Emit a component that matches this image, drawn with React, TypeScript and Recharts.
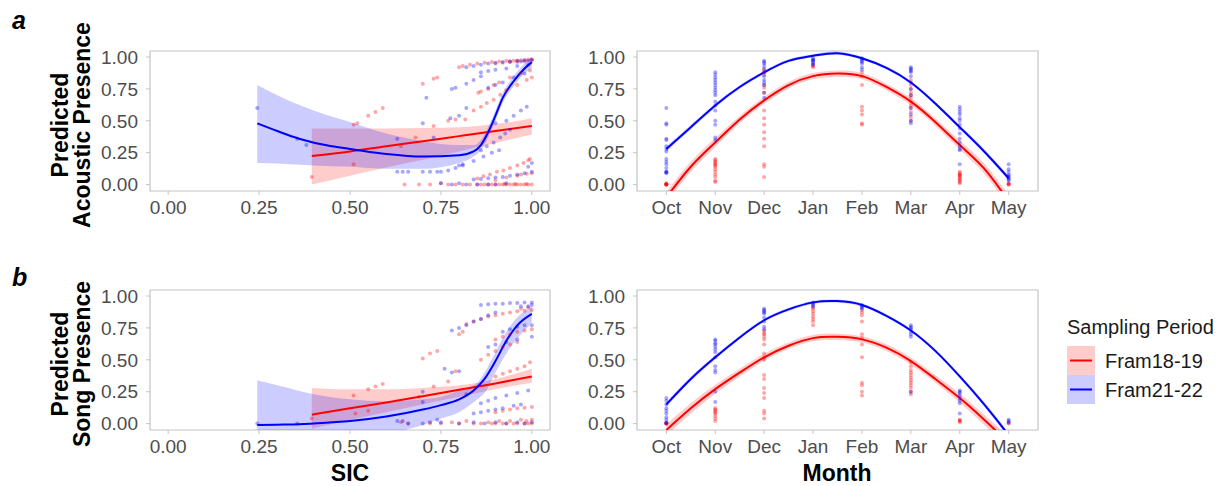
import React from "react";
import {
  ComposedChart,
  XAxis,
  YAxis,
  Scatter,
  Line,
  Area,
  ReferenceArea,
} from "recharts";

const FONT = "'Liberation Sans', Arial, Helvetica, sans-serif";
const RED = "#ff0000";
const BLUE = "#0000ff";
const BORDER = "#c4c4c4";
const TICK_TEXT = "#4d4d4d";

// axes
const yTicks = [0, 0.25, 0.5, 0.75, 1];
const sicTicks = [0, 0.25, 0.5, 0.75, 1];
const months = ["Oct", "Nov", "Dec", "Jan", "Feb", "Mar", "Apr", "May"];
const monthTicks = [0, 1, 2, 3, 4, 5, 6, 7];

// ---------- panel a, SIC ----------
const acSicLineX18 = [0.395, 0.5, 0.6, 0.7, 0.8, 0.9, 1.0];
const acSicLineY18 = [0.225, 0.26, 0.3, 0.34, 0.38, 0.42, 0.46];
const acSicBandX18 = [0.395, 0.5, 0.6, 0.7, 0.8, 0.85, 0.9, 0.95, 1.0];
const acSicBandLo18 = [0.0, 0.07, 0.135, 0.195, 0.26, 0.295, 0.325, 0.36, 0.39];
const acSicBandHi18 = [0.44, 0.44, 0.44, 0.443, 0.45, 0.46, 0.475, 0.495, 0.52];

const acSicLineX21 = [0.245, 0.3, 0.36, 0.45, 0.5, 0.6, 0.7, 0.8, 0.84, 0.86, 0.88, 0.9, 0.92, 0.95, 0.98, 1.0];
const acSicLineY21 = [0.48, 0.42, 0.36, 0.3, 0.28, 0.24, 0.22, 0.23, 0.26, 0.31, 0.41, 0.54, 0.68, 0.81, 0.91, 0.96];
const acSicBandX21 = [0.245, 0.3, 0.4, 0.5, 0.6, 0.7, 0.8, 0.84, 0.86, 0.88, 0.9, 0.92, 0.95, 0.98, 1.0];
const acSicBandLo21 = [0.17, 0.165, 0.15, 0.14, 0.125, 0.125, 0.17, 0.22, 0.27, 0.37, 0.5, 0.64, 0.77, 0.87, 0.91];
const acSicBandHi21 = [0.78, 0.7, 0.58, 0.49, 0.4, 0.34, 0.31, 0.31, 0.35, 0.45, 0.58, 0.72, 0.85, 0.95, 1.0];

const acSicPts18: [number, number][] = [
  [0.395, 0.06], [0.51, 0.16], [0.51, 0.47], [0.52, 0.48], [0.55, 0.54], [0.57, 0.57], [0.59, 0.6],
  [0.64, 0.3], [0.65, 0.0], [0.68, 0.37], [0.7, 0.79], [0.73, 0.83], [0.74, 0.84], [0.73, 0.46],
  [0.77, 0.5], [0.79, 0.51], [0.69, 0.0], [0.72, 0.0], [0.75, 0.01],
  [0.8, 0.92], [0.81, 0.93], [0.83, 0.94], [0.85, 0.95], [0.87, 0.955], [0.89, 0.96], [0.91, 0.965],
  [0.93, 0.97], [0.95, 0.97], [0.97, 0.975], [0.99, 0.98], [1.0, 0.98], [0.98, 0.975], [0.96, 0.97],
  [0.94, 0.965], [0.9, 0.95], [0.92, 0.955], [0.94, 0.96], [0.96, 0.96], [0.98, 0.965], [1.0, 0.97],
  [0.853, 0.72], [0.86, 0.73], [0.88, 0.75], [0.895, 0.78], [0.91, 0.8], [0.94, 0.84], [0.97, 0.87], [0.995, 0.895],
  [0.817, 0.51], [0.84, 0.58], [0.86, 0.61], [0.876, 0.64], [0.895, 0.665], [0.913, 0.705], [0.93, 0.74],
  [0.96, 0.78], [0.986, 0.82], [1.0, 0.84],
  [0.85, 0.047], [0.867, 0.065], [0.885, 0.08], [0.904, 0.1], [0.922, 0.11], [0.94, 0.13], [0.96, 0.15],
  [0.977, 0.17], [0.995, 0.2], [0.99, 0.19],
  [0.9, 0.035], [0.93, 0.055], [0.96, 0.07], [0.986, 0.086], [1.0, 0.09], [0.97, 0.08],
  [0.77, 0.0], [0.79, 0.0], [0.81, 0.0], [0.83, 0.0], [0.85, 0.0], [0.86, 0.0], [0.87, 0.0], [0.88, 0.0],
  [0.89, 0.0], [0.9, 0.0], [0.91, 0.0], [0.92, 0.0], [0.93, 0.0], [0.94, 0.0], [0.95, 0.0], [0.96, 0.0],
  [0.97, 0.0], [0.98, 0.0], [0.99, 0.0], [1.0, 0.0], [0.955, 0.005], [0.985, 0.005], [0.925, 0.005],
];

const acSicPts21: [number, number][] = [
  [0.245, 0.6], [0.355, 0.36], [0.38, 0.31], [0.63, 0.36], [0.63, 0.1], [0.645, 0.1], [0.66, 0.1],
  [0.7, 0.1], [0.7, 0.48], [0.71, 0.68], [0.73, 0.37], [0.72, 0.1], [0.74, 0.1], [0.75, 0.1],
  [0.77, 0.11], [0.79, 0.13], [0.8, 0.15], [0.81, 0.16], [0.78, 0.75], [0.79, 0.76], [0.82, 0.79],
  [0.84, 0.82], [0.86, 0.85],
  [0.82, 0.92], [0.84, 0.93], [0.86, 0.94], [0.88, 0.95], [0.9, 0.955], [0.92, 0.96], [0.94, 0.965],
  [0.96, 0.97], [0.98, 0.975], [1.0, 0.98], [0.99, 0.97], [0.97, 0.965],
  [0.86, 0.88], [0.88, 0.89], [0.9, 0.9], [0.93, 0.91], [0.96, 0.93], [0.99, 0.94],
  [0.88, 0.76], [0.9, 0.78], [0.92, 0.8], [0.95, 0.84], [0.98, 0.87],
  [0.776, 0.52], [0.8, 0.54], [0.82, 0.6], [0.9, 0.48], [0.93, 0.5], [0.95, 0.54], [0.97, 0.58], [0.986, 0.61],
  [0.86, 0.27], [0.876, 0.3], [0.895, 0.33], [0.913, 0.37], [0.927, 0.4], [0.94, 0.43],
  [0.81, 0.15], [0.84, 0.185], [0.867, 0.22], [0.89, 0.25], [0.91, 0.27],
  [0.84, 0.04], [0.86, 0.045], [0.88, 0.05], [0.9, 0.055], [0.92, 0.06], [0.94, 0.07], [0.96, 0.08],
  [0.98, 0.09], [1.0, 0.1], [1.0, 0.17], [0.99, 0.14],
  [0.75, 0.01], [0.78, 0.0], [0.8, 0.01], [0.82, 0.0], [0.85, 0.0], [0.88, 0.0], [0.9, 0.0], [0.93, 0.01],
];

// ---------- panel a, month ----------
const monthFitX = [0, 0.5, 1, 1.5, 2, 2.5, 3, 3.5, 4, 4.5, 5, 5.5, 6, 6.5, 7];
const acMonthFit18 = [-0.1, 0.14, 0.33, 0.51, 0.66, 0.78, 0.85, 0.87, 0.85, 0.765, 0.65, 0.49, 0.31, 0.125, -0.13];
const acMonthCi18 = [0.045, 0.04, 0.035, 0.03, 0.028, 0.026, 0.025, 0.025, 0.025, 0.026, 0.028, 0.03, 0.035, 0.04, 0.045];
const acMonthFit21 = [0.28, 0.45, 0.62, 0.765, 0.88, 0.97, 1.01, 1.03, 0.99, 0.915, 0.8, 0.635, 0.45, 0.26, 0.05];
const acMonthCi21 = [0.02, 0.017, 0.015, 0.013, 0.012, 0.012, 0.012, 0.012, 0.012, 0.012, 0.012, 0.013, 0.015, 0.017, 0.02];

const acMonthPts18 = [
  [0, 0, 0, 0, 0, 0.005, 0.01],
  [0.2, 0.19, 0.18, 0.17, 0.16, 0.15, 0.14, 0.12, 0.1, 0.08, 0.06, 0.03, 0.02],
  [0.91, 0.88, 0.86, 0.78, 0.76, 0.72, 0.58, 0.52, 0.47, 0.41, 0.36, 0.3, 0.16, 0.14, 0.06],
  [0.94, 0.93, 0.92],
  [0.88, 0.85, 0.78, 0.61, 0.58, 0.55, 0.48, 0.47],
  [0.82, 0.78, 0.75, 0.72, 0.7, 0.68, 0.65, 0.62, 0.6, 0.57, 0.53, 0.5],
  [0.1, 0.09, 0.08, 0.075, 0.07, 0.06, 0.05, 0.04, 0.03, 0.02, 0.01],
  [0.0, 0.0, 0.005, 0.01],
];
const acMonthPts21 = [
  [0.6, 0.48, 0.47, 0.36, 0.35, 0.3, 0.28, 0.26, 0.2, 0.18, 0.16, 0.13, 0.1, 0.1, 0.095, 0.09],
  [0.88, 0.86, 0.84, 0.82, 0.8, 0.78, 0.76, 0.74, 0.72, 0.7, 0.65, 0.62, 0.58, 0.5, 0.47, 0.37, 0.35],
  [0.97, 0.96, 0.95, 0.93, 0.9, 0.88, 0.85, 0.82, 0.8, 0.78, 0.72, 0.68],
  [0.99, 0.98, 0.975, 0.97, 0.96, 0.95, 0.94],
  [0.99, 0.98, 0.97, 0.96, 0.95, 0.92, 0.9],
  [0.92, 0.91, 0.9, 0.89, 0.88, 0.85, 0.8, 0.75, 0.7, 0.6, 0.55, 0.5, 0.48],
  [0.61, 0.59, 0.57, 0.55, 0.52, 0.5, 0.47, 0.44, 0.4, 0.36, 0.33, 0.3, 0.28, 0.27, 0.16],
  [0.16, 0.12, 0.1, 0.08, 0.07, 0.06, 0.05, 0.04, 0.03],
];

// ---------- panel b, SIC ----------
const soSicLineX18 = [0.395, 0.5, 0.6, 0.7, 0.8, 0.9, 1.0];
const soSicLineY18 = [0.07, 0.12, 0.165, 0.215, 0.265, 0.315, 0.37];
const soSicBandX18 = [0.395, 0.5, 0.6, 0.7, 0.8, 0.9, 1.0];
const soSicBandLo18 = [-0.04, 0.03, 0.09, 0.15, 0.21, 0.27, 0.32];
const soSicBandHi18 = [0.28, 0.27, 0.27, 0.28, 0.3, 0.35, 0.43];

const soSicLineX21 = [0.245, 0.3, 0.36, 0.45, 0.5, 0.6, 0.7, 0.75, 0.8, 0.84, 0.87, 0.9, 0.93, 0.96, 1.0];
const soSicLineY21 = [-0.01, -0.008, -0.005, 0.01, 0.02, 0.055, 0.11, 0.145, 0.19, 0.26, 0.35, 0.49, 0.65, 0.77, 0.86];
const soSicBandX21 = [0.245, 0.3, 0.4, 0.5, 0.6, 0.65, 0.7, 0.75, 0.8, 0.85, 0.87, 0.9, 0.93, 0.95, 1.0];
const soSicBandLo21 = [-0.4, -0.3, -0.2, -0.15, -0.09, -0.05, -0.01, 0.04, 0.09, 0.19, 0.24, 0.4, 0.55, 0.63, 0.79];
const soSicBandHi21 = [0.34, 0.3, 0.23, 0.19, 0.175, 0.18, 0.19, 0.21, 0.26, 0.32, 0.4, 0.56, 0.72, 0.8, 0.92];

const soSicPts18: [number, number][] = [
  [0.395, 0.04], [0.51, 0.22], [0.515, 0.08], [0.55, 0.1], [0.55, 0.27], [0.57, 0.29], [0.59, 0.31],
  [0.69, 0.21], [0.7, 0.51], [0.72, 0.55], [0.74, 0.57], [0.73, 0.29], [0.77, 0.33], [0.79, 0.41],
  [0.8, 0.7], [0.81, 0.72], [0.64, 0.01], [0.66, 0.0],
  [0.82, 0.78], [0.84, 0.8], [0.86, 0.82], [0.88, 0.84], [0.9, 0.85], [0.92, 0.86], [0.94, 0.87],
  [0.96, 0.88], [0.98, 0.885], [1.0, 0.89], [0.97, 0.9], [0.99, 0.91],
  [0.9, 0.66], [0.92, 0.68], [0.94, 0.7], [0.96, 0.72], [0.98, 0.73], [1.0, 0.74],
  [0.86, 0.5], [0.88, 0.54], [0.9, 0.57], [0.92, 0.6], [0.94, 0.62], [0.96, 0.64],
  [0.9, 0.37], [0.92, 0.39], [0.94, 0.41], [0.96, 0.43], [0.98, 0.45], [0.995, 0.48],
  [0.9, 0.09], [0.92, 0.1], [0.94, 0.11], [0.96, 0.12], [0.98, 0.125], [1.0, 0.13],
  [0.72, 0.0], [0.75, 0.0], [0.78, 0.01], [0.8, 0.0], [0.82, 0.02], [0.84, 0.0], [0.86, 0.0], [0.88, 0.01],
  [0.89, 0.0], [0.9, 0.0], [0.91, 0.02], [0.92, 0.0], [0.93, 0.0], [0.94, 0.02], [0.95, 0.0], [0.96, 0.0],
  [0.97, 0.03], [0.98, 0.0], [0.99, 0.0], [1.0, 0.0], [1.0, 0.03], [0.985, 0.02],
];

const soSicPts21: [number, number][] = [
  [0.245, 0.0], [0.355, 0.0], [0.63, 0.02], [0.645, 0.02], [0.66, 0.0], [0.7, 0.17], [0.7, 0.25],
  [0.72, 0.01], [0.74, 0.03], [0.76, 0.43], [0.78, 0.4], [0.8, 0.41], [0.82, 0.23],
  [0.78, 0.73], [0.8, 0.75], [0.82, 0.77], [0.84, 0.8], [0.86, 0.82], [0.88, 0.85], [0.9, 0.87],
  [0.86, 0.93], [0.88, 0.935], [0.9, 0.94], [0.92, 0.94], [0.94, 0.945], [0.96, 0.945], [0.98, 0.95],
  [1.0, 0.95], [0.97, 0.92], [0.99, 0.92], [1.0, 0.93],
  [0.92, 0.72], [0.94, 0.74], [0.96, 0.76], [0.98, 0.77], [1.0, 0.77],
  [0.88, 0.6], [0.9, 0.62], [0.93, 0.64], [0.96, 0.66], [1.0, 0.68],
  [0.86, 0.16], [0.88, 0.18], [0.9, 0.2], [0.93, 0.22], [0.96, 0.24], [0.99, 0.26],
  [0.84, 0.08], [0.86, 0.09], [0.88, 0.1], [0.9, 0.11], [0.92, 0.12], [0.95, 0.14], [0.97, 0.15],
  [0.7, 0.0], [0.75, 0.01], [0.8, 0.0], [0.84, 0.01], [0.87, 0.0], [0.9, 0.01], [0.93, 0.0], [0.96, 0.01],
  [0.98, 0.0], [1.0, 0.01],
];

// ---------- panel b, month ----------
const soMonthFit18 = [-0.05, 0.12, 0.27, 0.4, 0.52, 0.61, 0.67, 0.68, 0.66, 0.595, 0.49, 0.35, 0.2, 0.03, -0.15];
const soMonthCi18 = [0.045, 0.04, 0.035, 0.03, 0.028, 0.026, 0.025, 0.025, 0.025, 0.026, 0.028, 0.03, 0.035, 0.04, 0.045];
const soMonthFit21 = [0.15, 0.35, 0.52, 0.675, 0.81, 0.895, 0.95, 0.96, 0.93, 0.845, 0.73, 0.57, 0.37, 0.15, -0.09];
const soMonthCi21 = [0.02, 0.017, 0.015, 0.013, 0.012, 0.012, 0.012, 0.012, 0.012, 0.012, 0.012, 0.013, 0.015, 0.017, 0.02];

const soMonthPts18 = [
  [0, 0, 0, 0.005],
  [0.12, 0.11, 0.1, 0.09, 0.08, 0.06, 0.04, 0.02],
  [0.73, 0.71, 0.7, 0.68, 0.66, 0.62, 0.55, 0.52, 0.5, 0.38, 0.35, 0.28, 0.24, 0.2, 0.1, 0.08, 0.04],
  [0.91, 0.9, 0.88, 0.86, 0.84, 0.82, 0.8, 0.77],
  [0.89, 0.87, 0.85, 0.8, 0.7, 0.67, 0.62, 0.52, 0.32, 0.3, 0.25, 0.22],
  [0.48, 0.45, 0.42, 0.4, 0.38, 0.36, 0.34, 0.32, 0.3, 0.28, 0.25, 0.23],
  [0.03, 0.025, 0.02, 0.01],
  [0.0, 0.005],
];
const soMonthPts21 = [
  [0.2, 0.18, 0.15, 0.12, 0.1, 0.08, 0.05, 0.03, 0.01, 0.0],
  [0.66, 0.65, 0.63, 0.62, 0.6, 0.58, 0.56, 0.52, 0.45, 0.42, 0.4, 0.25, 0.17],
  [0.9, 0.89, 0.88, 0.87, 0.86, 0.83, 0.8, 0.76, 0.74],
  [0.95, 0.94, 0.93, 0.92],
  [0.93, 0.92, 0.91, 0.9],
  [0.77, 0.76, 0.75, 0.74, 0.72, 0.7, 0.68, 0.25],
  [0.26, 0.25, 0.24, 0.22, 0.2, 0.18, 0.16, 0.08],
  [0.03, 0.02, 0.01],
];

// ---------- helpers ----------
const toPoints = (pts: [number, number][]) => pts.map(([x, y]) => ({ x, y }));
const toMonthPoints = (byMonth: number[][]) =>
  byMonth.flatMap((vals, m) => vals.map((y) => ({ x: m, y })));
const toLine = (xs: number[], ys: number[]) => xs.map((x, i) => ({ x, y: ys[i] }));
const toBand = (xs: number[], lo: number[], hi: number[]) =>
  xs.map((x, i) => ({ x, band: [lo[i], hi[i]] }));
const toCiBand = (xs: number[], fit: number[], ci: number[]) =>
  xs.map((x, i) => ({ x, band: [fit[i] - ci[i], fit[i] + ci[i]] }));

const Y_DOMAIN: [number, number] = [-0.05, 1.047];
const Y_AXIS_W = 60;
const X_AXIS_H = 34;
const PAD = 4;
const PLOT_H = 140;

const dot = (color: string) => (props: any) =>
  <circle cx={props.cx} cy={props.cy} r={2} fill={color} fillOpacity={0.35} />;

interface Series {
  points: { x: number; y: number }[];
  line: { x: number; y: number }[];
  band: { x: number; band: number[] }[];
}

interface PanelProps {
  left: number;
  top: number;
  width: number;
  xDomain: [number, number];
  xTicks: number[];
  xFormat: (v: number) => string;
  curve: "monotone" | "natural";
  red: Series;
  blue: Series;
}

const tickStyle = { fill: TICK_TEXT, fontSize: 19, fontFamily: FONT };

const Panel: React.FC<PanelProps> = ({ left, top, width, xDomain, xTicks, xFormat, curve, red, blue }) => (
  <div style={{ position: "absolute", left: left - Y_AXIS_W, top: top - PAD }}>
    <ComposedChart
      width={Y_AXIS_W + width + PAD}
      height={PAD + PLOT_H + X_AXIS_H}
      margin={{ top: PAD, right: PAD, bottom: 0, left: 0 }}
    >
      <XAxis
        type="number"
        dataKey="x"
        domain={xDomain}
        ticks={xTicks}
        interval={0}
        tickFormatter={xFormat}
        allowDataOverflow
        axisLine={false}
        tickLine={{ stroke: BORDER }}
        tickSize={4}
        tickMargin={6}
        height={X_AXIS_H}
        tick={tickStyle}
      />
      <YAxis
        type="number"
        dataKey="y"
        domain={Y_DOMAIN}
        ticks={yTicks}
        interval={0}
        tickFormatter={(v: number) => v.toFixed(2)}
        allowDataOverflow
        axisLine={false}
        tickLine={{ stroke: BORDER }}
        tickSize={4}
        tickMargin={8}
        width={Y_AXIS_W}
        tick={tickStyle}
      />
      <ReferenceArea
        x1={xDomain[0]}
        x2={xDomain[1]}
        y1={Y_DOMAIN[0]}
        y2={Y_DOMAIN[1]}
        fill="none"
        stroke={BORDER}
        strokeWidth={1.2}
        ifOverflow="visible"
      />
      <Scatter data={red.points} shape={dot(RED)} isAnimationActive={false} />
      <Scatter data={blue.points} shape={dot(BLUE)} isAnimationActive={false} />
      <Area data={red.band} dataKey="band" type={curve} stroke="none" fill={RED} fillOpacity={0.2} isAnimationActive={false} />
      <Area data={blue.band} dataKey="band" type={curve} stroke="none" fill={BLUE} fillOpacity={0.2} isAnimationActive={false} />
      <Line data={red.line} dataKey="y" type={curve} stroke={RED} strokeWidth={2} dot={false} isAnimationActive={false} />
      <Line data={blue.line} dataKey="y" type={curve} stroke={BLUE} strokeWidth={2} dot={false} isAnimationActive={false} />
    </ComposedChart>
  </div>
);

const sicFormat = (v: number) => v.toFixed(2);
const monthFormat = (v: number) => months[v] ?? "";

const App: React.FC = () => {
  const SIC_LEFT = 150;
  const SIC_W = 400;
  const MONTH_LEFT = 637;
  const MONTH_W = 401;
  const TOP_A = 51;
  const TOP_B = 290;

  return (
    <div
      style={{
        position: "absolute",
        left: 0,
        top: 0,
        width: 1223,
        height: 486,
        background: "#ffffff",
        fontFamily: FONT,
        overflow: "hidden",
      }}
    >
      <Panel
        left={SIC_LEFT}
        top={TOP_A}
        width={SIC_W}
        xDomain={[-0.05, 1.05]}
        xTicks={sicTicks}
        xFormat={sicFormat}
        curve="monotone"
        red={{
          points: toPoints(acSicPts18),
          line: toLine(acSicLineX18, acSicLineY18),
          band: toBand(acSicBandX18, acSicBandLo18, acSicBandHi18),
        }}
        blue={{
          points: toPoints(acSicPts21),
          line: toLine(acSicLineX21, acSicLineY21),
          band: toBand(acSicBandX21, acSicBandLo21, acSicBandHi21),
        }}
      />
      <Panel
        left={MONTH_LEFT}
        top={TOP_A}
        width={MONTH_W}
        xDomain={[-0.6, 7.6]}
        xTicks={monthTicks}
        xFormat={monthFormat}
        curve="natural"
        red={{
          points: toMonthPoints(acMonthPts18),
          line: toLine(monthFitX, acMonthFit18),
          band: toCiBand(monthFitX, acMonthFit18, acMonthCi18),
        }}
        blue={{
          points: toMonthPoints(acMonthPts21),
          line: toLine(monthFitX, acMonthFit21),
          band: toCiBand(monthFitX, acMonthFit21, acMonthCi21),
        }}
      />
      <Panel
        left={SIC_LEFT}
        top={TOP_B}
        width={SIC_W}
        xDomain={[-0.05, 1.05]}
        xTicks={sicTicks}
        xFormat={sicFormat}
        curve="monotone"
        red={{
          points: toPoints(soSicPts18),
          line: toLine(soSicLineX18, soSicLineY18),
          band: toBand(soSicBandX18, soSicBandLo18, soSicBandHi18),
        }}
        blue={{
          points: toPoints(soSicPts21),
          line: toLine(soSicLineX21, soSicLineY21),
          band: toBand(soSicBandX21, soSicBandLo21, soSicBandHi21),
        }}
      />
      <Panel
        left={MONTH_LEFT}
        top={TOP_B}
        width={MONTH_W}
        xDomain={[-0.6, 7.6]}
        xTicks={monthTicks}
        xFormat={monthFormat}
        curve="natural"
        red={{
          points: toMonthPoints(soMonthPts18),
          line: toLine(monthFitX, soMonthFit18),
          band: toCiBand(monthFitX, soMonthFit18, soMonthCi18),
        }}
        blue={{
          points: toMonthPoints(soMonthPts21),
          line: toLine(monthFitX, soMonthFit21),
          band: toCiBand(monthFitX, soMonthFit21, soMonthCi21),
        }}
      />

      {/* titles, panel letters and legend */}
      <svg
        width={1223}
        height={486}
        style={{ position: "absolute", left: 0, top: 0, pointerEvents: "none" }}
        fontFamily={FONT}
      >
        <text x={12} y={28.5} fontSize={25} fontWeight="bold" fontStyle="italic" fill="#000">a</text>
        <text x={12} y={286} fontSize={25} fontWeight="bold" fontStyle="italic" fill="#000">b</text>

        <g fontSize={23} fontWeight="bold" fill="#000" textAnchor="middle">
          <text transform="translate(68,125) rotate(-90)">Predicted</text>
          <text transform="translate(90,125) rotate(-90)">Acoustic Presence</text>
          <text transform="translate(68,364) rotate(-90)">Predicted</text>
          <text transform="translate(90,364) rotate(-90)">Song Presence</text>
          <text x={350} y={481}>SIC</text>
          <text x={837} y={481}>Month</text>
        </g>

        <g fontSize={20} fill="#1a1a1a">
          <text x={1067} y={334}>Sampling Period</text>
          <rect x={1067} y={346} width={28} height={29} fill={RED} fillOpacity={0.2} />
          <line x1={1070} x2={1092} y1={360.5} y2={360.5} stroke={RED} strokeWidth={2} />
          <text x={1105} y={367.5}>Fram18-19</text>
          <rect x={1067} y={375} width={28} height={29} fill={BLUE} fillOpacity={0.2} />
          <line x1={1070} x2={1092} y1={389.5} y2={389.5} stroke={BLUE} strokeWidth={2} />
          <text x={1105} y={396.5}>Fram21-22</text>
        </g>
      </svg>
    </div>
  );
};

export default App;
